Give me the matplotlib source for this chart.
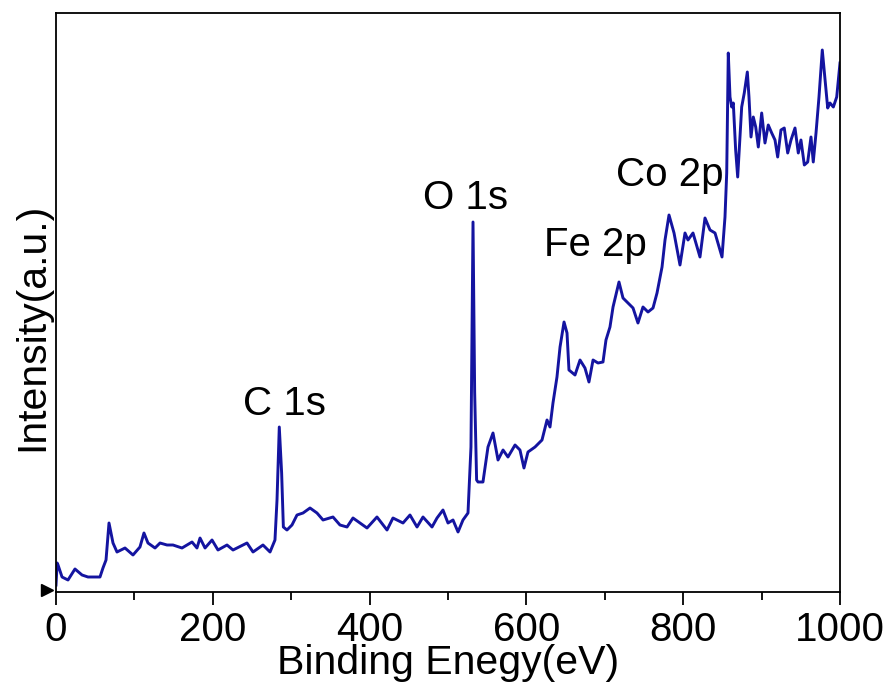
import matplotlib
matplotlib.use("Agg")
import matplotlib.pyplot as plt
from matplotlib.ticker import MultipleLocator

plt.rcParams['font.family'] = ['Liberation Sans', 'DejaVu Sans']

energy = [0, 1.5, 2.6, 7.7, 15.3, 24.2, 33.2, 40.8, 56.1, 59.9, 63.8, 67.6, 72.7, 77.8,
          88.0, 98.2, 107.1, 112.2, 117.3, 126.3, 132.7, 141.6, 149.2, 160.7, 173.5,
          179.8, 183.7, 190.1, 199.0, 206.6, 218.1, 225.8, 243.6, 251.3, 264.0, 273.0,
          279.3, 281.9, 284.8, 287.8, 290.0, 294.6, 301.0, 307.4, 315.1, 324.0, 332.9,
          340.6, 353.3, 362.2, 371.2, 378.8, 387.8, 396.7, 409.4, 422.2, 429.8, 442.6,
          451.5, 460.5, 468.1, 479.6, 486.0, 493.6, 500.0, 506.4, 512.8, 519.1, 525.5,
          529.3, 531.9, 534.0, 536.5, 538.3, 544.6, 551.0, 557.4, 563.8, 570.2, 576.5,
          585.5, 591.8, 596.9, 602.0, 611.0, 619.9, 626.3, 630.1, 633.9, 639.0, 642.9,
          648.0, 651.8, 654.3, 662.0, 668.4, 674.7, 679.8, 685.0, 691.3, 697.7, 701.5,
          706.6, 710.5, 718.1, 723.2, 729.6, 736.0, 742.3, 748.7, 755.1, 761.5, 766.6,
          773.0, 776.8, 781.9, 788.3, 795.9, 802.3, 806.1, 812.5, 821.4, 827.8, 834.2,
          840.6, 849.5, 853.3, 855.5, 857.5, 859.7, 861.9, 863.9, 866.9, 869.5, 872.4,
          874.6, 877.9, 881.8, 883.9, 886.5, 889.4, 892.5, 895.8, 900.1, 904.3, 908.5,
          912.9, 917.1, 920.5, 924.7, 928.9, 933.3, 937.5, 942.6, 946.8, 950.2, 954.5,
          958.8, 963.0, 965.9, 969.4, 973.2, 977.4, 980.9, 984.3, 987.2, 991.5, 995.8,
          1000]
intensity = [7, 29, 27, 15, 12, 23, 17, 15, 15, 24, 32, 69, 49, 40,
             44, 37, 45, 59, 49, 44, 49, 47, 47, 44, 50,
             44, 54, 44, 52, 42, 47, 42, 49, 40, 47, 40,
             52, 92, 165, 119, 65, 62, 67, 77, 79, 84, 79,
             72, 75, 67, 65, 74, 69, 64, 75, 62, 74, 69,
             77, 65, 75, 65, 74, 82, 69, 72, 60, 72, 79,
             145, 370, 200, 112, 110, 110, 145, 159, 132, 142, 135,
             147, 142, 124, 140, 145, 152, 172, 165, 189, 215, 245,
             270, 259, 222, 217, 232, 224, 210, 232, 229, 230, 252,
             265, 285, 310, 294, 289, 284, 269, 285, 280, 284, 299,
             325, 352, 377, 359, 327, 359, 352, 359, 335, 374, 362,
             359, 335, 375, 419, 539, 495, 485, 489, 442, 415, 455,
             485, 499, 520, 495, 455, 475, 465, 445, 479, 449, 467,
             459, 452, 435, 462, 464, 439, 452, 464, 439, 452, 427,
             430, 455, 430, 459, 495, 542, 512, 484, 489, 485, 495,
             529]

peak_labels = ["C 1s", "O 1s", "Fe 2p", "Co 2p"]
label_x = [292, 523, 688, 783]
label_y = [188, 394, 347, 417]

x_ticks = [0, 200, 400, 600, 800, 1000]

fig = plt.figure(figsize=(8.93, 6.89), dpi=100)
ax = fig.add_axes([56/893, 97/689, 784/893, 579/689])
ax.plot(energy, intensity, color='#1414a0', lw=2.1)
ax.set_xlim(0, 1000)
ax.set_ylim(0, 579)
ax.set_xticks(x_ticks)
ax.xaxis.set_minor_locator(MultipleLocator(100))
ax.set_yticks([])
ax.tick_params(axis='x', which='major', direction='out', length=9, width=1.3,
               labelsize=29, pad=5)
ax.tick_params(axis='x', which='minor', direction='out', length=6, width=1.3)
for s in ax.spines.values():
    s.set_linewidth(1.3)
fig.text(448/893, 15/689, 'Binding Enegy(eV)', fontsize=29.5,
         ha='center', va='baseline')
fig.text(51/893, 1 - 327/689, 'Intensity(a.u.)', fontsize=29.5, rotation=90,
         ha='right', va='center')
for t, x, y in zip(peak_labels, label_x, label_y):
    ax.text(x, y, t, fontsize=29, ha='center', va='center')
ax.plot([-0.012], [0.003], marker='>', color='black', markersize=8,
        transform=ax.transAxes, clip_on=False)
fig.savefig('out.png', dpi=100)
